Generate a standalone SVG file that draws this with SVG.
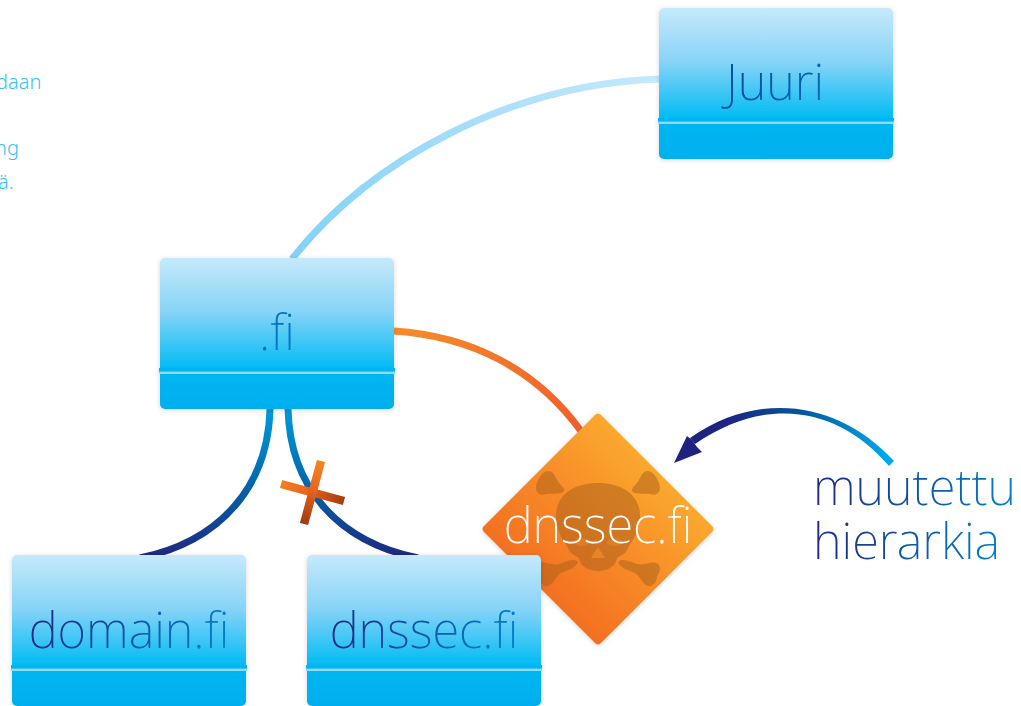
<svg xmlns="http://www.w3.org/2000/svg" width="1021" height="706" viewBox="0 0 1021 706">
<style>
text{font-family:"Noto Sans","Open Sans",sans-serif;font-weight:200;font-variant-ligatures:none}
.lab{font-size:49px;text-anchor:middle}
.side{font-size:20px;fill:#38bff1;font-weight:300}
.big{font-size:49px;fill:url(#tx)}
.bone{fill:#a9601c;opacity:.5}
</style>
<defs>
<linearGradient id="box" x1="0" y1="0" x2="0" y2="1">
<stop offset="0" stop-color="#c6e9fb"/><stop offset=".35" stop-color="#88d4f7"/><stop offset=".72" stop-color="#05bcf4"/><stop offset=".75" stop-color="#00b7f1"/><stop offset="1" stop-color="#00aeef"/>
</linearGradient>
<linearGradient id="tx" x1="0" y1="0" x2="1" y2="0"><stop offset="0" stop-color="#1f2a82"/><stop offset="1" stop-color="#0080c6"/></linearGradient>
<linearGradient id="txj" x1="0" y1="0" x2="1" y2="0"><stop offset="0" stop-color="#004a98"/><stop offset="1" stop-color="#0066b0"/></linearGradient>
<linearGradient id="txf" x1="0" y1="0" x2="1" y2="0"><stop offset="0" stop-color="#0070b8"/><stop offset="1" stop-color="#0078c0"/></linearGradient>
<linearGradient id="c1" gradientUnits="userSpaceOnUse" x1="659" y1="78" x2="292" y2="258"><stop offset="0" stop-color="#c6e9fb"/><stop offset="1" stop-color="#82d2f6"/></linearGradient>
<linearGradient id="c2" gradientUnits="userSpaceOnUse" x1="394" y1="331" x2="581" y2="431"><stop offset="0" stop-color="#f68b2a"/><stop offset="1" stop-color="#f0602a"/></linearGradient>
<linearGradient id="c3" gradientUnits="userSpaceOnUse" x1="0" y1="409" x2="0" y2="555"><stop offset="0" stop-color="#009ad9"/><stop offset=".5" stop-color="#0069ae"/><stop offset="1" stop-color="#1d2a80"/></linearGradient>
<linearGradient id="ar" gradientUnits="userSpaceOnUse" x1="893" y1="462" x2="680" y2="450"><stop offset="0" stop-color="#00aeef"/><stop offset=".45" stop-color="#00569c"/><stop offset=".8" stop-color="#1f2380"/></linearGradient>
<linearGradient id="dia" gradientUnits="userSpaceOnUse" x1="660" y1="470" x2="540" y2="590"><stop offset="0" stop-color="#fba92f"/><stop offset="1" stop-color="#f36f21"/></linearGradient>
<linearGradient id="x1" gradientUnits="userSpaceOnUse" x1="280" y1="484" x2="344" y2="501"><stop offset="0" stop-color="#f5821f"/><stop offset=".45" stop-color="#e8641f"/><stop offset="1" stop-color="#a23c10"/></linearGradient>
<linearGradient id="x2" gradientUnits="userSpaceOnUse" x1="321" y1="461" x2="304" y2="523"><stop offset="0" stop-color="#f5881f"/><stop offset=".45" stop-color="#e8641f"/><stop offset="1" stop-color="#a03c10"/></linearGradient>
<filter id="sh" x="-10%" y="-10%" width="120%" height="120%"><feDropShadow dx="0" dy="1" stdDeviation="2.5" flood-color="#000" flood-opacity=".16"/></filter>
<g id="boxshape">
<rect width="234" height="151" rx="5" fill="url(#box)"/>
<rect x="-1" y="110" width="236" height="4" fill="#00b5f0"/>
<rect x="-1" y="113.6" width="236" height="2.4" fill="#8fdcf8"/>
</g>
</defs>
<rect width="1021" height="706" fill="#fff"/>
<g id="side-text">
<text class="side" x="-4" y="89">daan</text>
<text class="side" x="-5" y="155">ng</text>
<text class="side" x="-2" y="189">ä.</text>
</g>
<g id="connectors" fill="none" stroke-width="7">
<path d="M660 79C510 84 370 160 292 259" stroke="url(#c1)"/>
<path d="M394 331C470 336 535 368 581 431" stroke="url(#c2)"/>
<path d="M270 409C268 485 222 541 140 558" stroke="url(#c3)"/>
<path d="M288 409C290 485 335 541 418 558" stroke="url(#c3)"/>
</g>
<g id="cross" stroke-width="8.5" fill="none">
<path d="M281 484L344 501" stroke="url(#x1)"/>
<path d="M321 461L304 524" stroke="url(#x2)"/>
</g>
<g id="node-dnssec-bad">
<path d="M595 415Q598 412 601 415L712 526Q715 529 712 532L601 643Q598 646 595 643L484 532Q481 529 484 526Z" fill="url(#dia)" filter="url(#sh)"/>
<g class="bone">
<path d="M556 516C556 494 575 483 598 483C621 483 640 494 640 516C640 532 632 541 628 548C626 554 620 556 617 558C616 566 608 571 598 571C588 571 580 566 579 558C576 556 570 554 568 548C564 541 556 532 556 516Z"/>
<path d="M548 471C553 471 555 476 557 480C560 485 565 488 564 491C562 495 552 493 546 494C540 496 536 493 536 488C536 482 542 471 548 471Z"/>
<path d="M648 471C643 471 641 476 639 480C636 485 631 488 632 491C634 495 644 493 650 494C656 496 660 493 660 488C660 482 654 471 648 471Z"/>
<path d="M618 562C622 558 628 561 637 564C645 566 652 560 658 564C662 568 659 573 657 576C657 582 653 587 648 586C642 584 641 577 635 573C628 570 620 568 618 562Z"/>
<path d="M578 562C574 558 568 561 559 564C551 566 544 560 538 564C534 568 537 573 539 576C539 582 543 587 548 586C554 584 555 577 561 573C568 570 576 568 578 562Z"/>
</g>
<path d="M598 547L605 558H591Z" fill="#f08a2a" opacity=".75"/>
<path d="M573 542C578 535 586 537 590 543C585 547 577 547 573 542ZM606 543C610 537 618 535 623 542C619 547 611 547 606 543Z" fill="#f08a2a" opacity=".45"/>
<text x="598" y="543" class="lab" fill="#fff">dnssec.fi</text>
</g>
<g id="node-juuri"><use href="#boxshape" x="659" y="8" filter="url(#sh)"/><text class="lab" x="775" y="100" fill="url(#txj)">Juuri</text></g>
<g id="node-fi"><use href="#boxshape" x="160" y="258" filter="url(#sh)"/><text class="lab" x="277" y="350" fill="url(#txf)">.fi</text></g>
<g id="node-domain"><use href="#boxshape" x="12" y="555" filter="url(#sh)"/><text class="lab" x="129" y="648" fill="url(#tx)">domain.fi</text></g>
<g id="node-dnssec"><use href="#boxshape" x="307" y="555" filter="url(#sh)"/><text class="lab" x="424" y="648" fill="url(#tx)">dnssec.fi</text></g>
<g id="changed">
<path d="M894 461L889 466C840 408 768 394 695 444L690 438C760 389 840 402 894 461Z" fill="url(#ar)"/>
<path d="M674 463L687 436L692 440L697 447L702 452Z" fill="#1f2380"/>
<text class="big" x="813" y="505">muutettu</text>
<text class="big" x="813" y="559">hierarkia</text>
</g>
</svg>
